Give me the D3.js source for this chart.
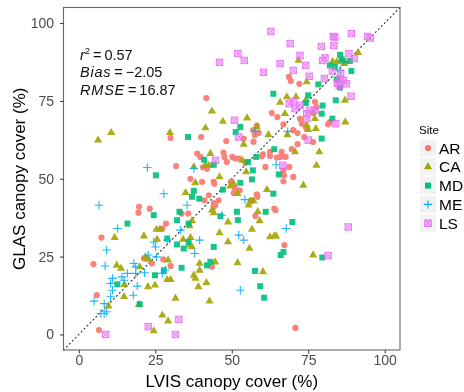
<!DOCTYPE html>
<html><head><meta charset="utf-8">
<script src="https://cdn.jsdelivr.net/npm/d3@7"></script>
<style>body{margin:0;background:#fff}svg{font-family:"Liberation Sans",Arial,Helvetica,sans-serif}</style>
</head><body>
<svg id="c" width="464" height="392"></svg>
<script>
const sites = ["AR","CA","MD","ME","LS"];
const colors = ["#F8766D","#A3A500","#00BF7D","#00B0F6","#E76BF3"];
const ticks = [0,25,50,75,100];
const stats = [["r","2","0.57"],["Bias","","\u22122.05"],["RMSE","","16.87"]];

const AR = [[41.7,75.9],[68.7,82.7],[69.3,81.4],[72.1,80.5],[77.2,74.7],[77.7,73],[76.6,71.1],[63.1,71.1],[64.9,69.8],[72.3,69.3],[72.9,67.7],[74.3,66.3],[66.9,67.5],[70.1,65.6],[71.5,64.7],[57,65.6],[58.2,67.1],[53.9,62.9],[57.6,64],[58.8,64.7],[30,63.1],[40,63.4],[48.2,62.1],[57.1,61.9],[71.5,61.1],[76.6,61.8],[82.1,68.2],[81.5,67.5],[73.7,63.4],[69.6,59.5],[67.6,57],[66.3,58.6],[38.7,58.1],[39.7,57],[40.6,53.7],[41.9,53.2],[31.8,54.1],[36.5,50],[40.3,49],[44.1,49],[44.3,48.4],[47.3,58.4],[47.6,57],[50.2,57],[51.1,56.5],[52.3,56.5],[49.8,49],[48.4,55.4],[54.4,55.1],[59.8,57.2],[60.2,57.8],[61,53.8],[62.5,57.3],[65.9,57],[64.7,56.8],[66.9,52.7],[67.1,51.1],[66.9,49.2],[70.1,50.6],[68.8,53.8],[62.5,58.6],[42.5,44.7],[45.7,43.1],[44.1,42.2],[44.1,41],[44.6,41.5],[51.1,46.8],[52.6,46.3],[58.2,45],[58.4,44.2],[56.3,43.1],[63.9,40.4],[64.3,39.9],[57.7,38],[41.1,43.1],[50.6,45.4],[33.6,38.8],[35.8,38.8],[19.7,41],[19.5,39.1],[23.2,40.4],[28.5,35.6],[27.3,34],[7.4,31.1],[21.3,24.4],[27.6,24.1],[23.9,22.8],[30,22],[43.5,21.7],[4.8,22.6],[5.9,12.6],[6.6,1.4],[70.8,2.1],[67.2,28.7]];
const CA = [[91.3,90.5],[71.8,88],[83,87.7],[84.3,87.5],[85.9,88],[86.8,87],[68,76.3],[71,76.3],[74.3,75.4],[74.5,81.1],[87,75.2],[65.8,74.5],[67.4,70.9],[77.2,69.3],[43.5,71.7],[55,69.5],[47.1,68.4],[58.2,66.6],[41.4,66.3],[74.5,67.2],[77.5,66.1],[87.1,68.2],[29.8,64.8],[10.6,64.8],[6.3,62.4],[62,64.1],[68.2,64.1],[75,65.8],[43,58.1],[53.9,61],[70.7,58.6],[78.6,58.6],[77.7,54.3],[41.4,54.3],[42.5,54.3],[37.6,53.8],[53.5,55.9],[54.7,52.2],[50.6,48.4],[46,50.6],[49.5,47.6],[38.1,48.7],[34.9,45.5],[73.4,47.9],[61.5,46.5],[51.9,45.2],[56,42.6],[57.1,42.9],[55.5,41.5],[58.5,39.4],[43.6,39.9],[44.1,39],[37,36.5],[36.2,34.9],[48.8,36.1],[59.1,36.5],[62.5,31.3],[63.9,31.6],[64.5,31.6],[56.6,33.7],[46,32.6],[25.4,33.7],[26.5,33.7],[25.6,30.5],[11.7,31.1],[21.3,31.6],[34.1,30.5],[36.5,31.1],[37,28.1],[36.2,28.7],[48.8,29.7],[55.8,27.6],[76.6,25.5],[21.8,24.9],[22.9,24.1],[29.2,23.9],[39.5,22.8],[44.6,23.2],[51.9,23],[12.4,22.2],[13.8,21.2],[19.9,21.7],[37.6,19],[38.1,18],[28.9,17.6],[30,17.6],[39.5,20.6],[41.7,16.6],[24.9,15.8],[22.6,15.3],[39.1,15.3],[14.9,16],[60.2,20.1],[14.8,12.1],[31.6,11.6],[42.7,10.7],[19.7,9.6],[9.7,9.1],[27.3,6.2],[29.2,4.3],[24.5,1.1]];
const MD = [[85.4,89.8],[85.9,88.4],[86.4,87.9],[82.1,86.4],[83.7,85.9],[89.1,84.6],[88.6,87.8],[84.3,81.9],[85.4,79.3],[78.3,80.3],[75,76.8],[84,75.2],[79.7,73.5],[79.4,70.9],[82.9,69.3],[79.4,62.9],[74.2,74.3],[63.6,77.3],[63.9,59.5],[51.3,65],[52.8,66.6],[35.7,63.4],[41,56.1],[44.1,54.5],[25.2,51.1],[37.6,46.1],[37,44.2],[39.4,43.6],[47.1,46.5],[52.8,48.7],[56.9,52.7],[55.3,55.4],[56.6,49.8],[58,57],[65.4,51.4],[63.6,45.2],[46.3,38],[52,36.7],[51.7,39.4],[61.1,39.4],[32.9,39.4],[24.5,38.3],[15.9,35.6],[32.1,36.7],[35.9,35.6],[28.9,30.8],[32.1,28.9],[34.3,27.6],[35.9,29.7],[44.1,28.1],[41.9,22.2],[43,23.3],[33.6,21.4],[27.8,20.6],[24.9,19],[12.6,16.1],[19.9,9.7],[57.6,20.4],[59.3,15.5],[60.6,11.8],[69.8,36.1],[66.9,26.5],[66,25.5],[79.6,24.7]];
const ME = [[22.4,53.6],[37.6,53.3],[27.8,45.2],[6.6,41.5],[35.4,41.5],[46.8,38.3],[12.7,34],[33.2,33.5],[9.1,27.1],[24.5,29.7],[25.1,28.1],[28.9,30.3],[39.5,30.3],[37.9,26],[52.3,31.9],[53.9,30.3],[67.8,34],[68.3,65.2],[57.7,65.3],[64.5,54.5],[8.6,22],[18,22.8],[18.6,21.7],[22.7,25.5],[25.4,24.9],[21.5,19.8],[15.9,19.6],[11,18],[10.4,16.4],[11,14.2],[10.4,12.1],[14.1,18.5],[14.8,17.4],[18.6,19.6],[19.1,15.5],[17.8,12.6],[5,10.7],[8.3,9.9],[7.2,6.7],[8.3,6.7],[9.1,7.3],[52.8,14.2],[27.3,19.6],[28.3,20.6],[54.3,43.3],[85.4,84.9]];
const LS = [[62.8,97.3],[89.1,96.6],[83.2,95.7],[83.7,95.5],[94.4,95.7],[95.3,95.2],[69.1,93.4],[83.4,92.8],[79.3,92.5],[52,90.2],[54.1,88],[46,87.4],[72.3,89.6],[74.2,86.4],[65.8,87],[70.1,84.8],[88.3,90.2],[90,88.6],[79.7,88],[80.5,88.8],[60.4,84.2],[82.9,84.6],[80.3,82.2],[75.3,82.9],[85.6,83.7],[85.4,82.1],[86.5,81.6],[87.5,80.5],[84.5,80.7],[85.1,80],[89,76.5],[68.8,74.1],[70.2,74.7],[70.7,72.5],[72.3,73.6],[75.4,72],[74.5,70.9],[77.2,72],[74.5,69.3],[84,67.7],[50.9,68.8],[52.3,63.4],[75,62.4],[44.7,55.9],[66.7,54.3],[88.1,34.5],[81.5,25.3],[22.7,2.5],[32.7,4.8],[8.8,0],[31.6,0]];
const data = {AR, CA, MD, ME, LS};

const svg = d3.select("#c");
const x = d3.scaleLinear().domain([-5,105]).range([63.5,400]);
const y = d3.scaleLinear().domain([-5,105]).range([350,7.5]);

svg.append("rect").attr("x",63.5).attr("y",7.5).attr("width",336.5).attr("height",342.5)
  .attr("fill","#fff");

svg.append("line").attr("x1",x(-5)).attr("y1",y(-5)).attr("x2",x(105)).attr("y2",y(105))
  .attr("stroke","#222").attr("stroke-width",1.1).attr("stroke-dasharray","1,3.2").attr("stroke-linecap","round");

function drawShape(g, site, color){
  if(site==="AR"){
    g.append("circle").attr("r",3.1).attr("fill",color);
  } else if(site==="CA"){
    g.append("path").attr("d",d3.symbol(d3.symbolTriangle, 29)()).attr("fill",color);
  } else if(site==="MD"){
    g.append("rect").attr("x",-3).attr("y",-3).attr("width",6).attr("height",6).attr("fill",color);
  } else if(site==="ME"){
    g.append("path").attr("d","M-4.2,0H4.2M0,-4.2V4.2").attr("stroke",color).attr("stroke-width",1.1).attr("fill","none");
  } else {
    g.append("rect").attr("x",-3.2).attr("y",-3.2).attr("width",6.4).attr("height",6.4)
      .attr("fill",color).attr("fill-opacity",0.45).attr("stroke",color).attr("stroke-width",1);
    g.append("path").attr("d","M-3.2,-3.2L3.2,3.2M3.2,-3.2L-3.2,3.2").attr("stroke",color).attr("stroke-width",0.9);
  }
}
sites.forEach((s,i)=>{
  svg.append("g").attr("opacity",0.9).selectAll("g").data(data[s]).join("g")
    .attr("transform",d=>`translate(${x(d[0])},${y(d[1])})`)
    .each(function(){ drawShape(d3.select(this), s, colors[i]); });
});

svg.append("rect").attr("x",63.5).attr("y",7.5).attr("width",336.5).attr("height",342.5)
  .attr("fill","none").attr("stroke","#666").attr("stroke-width",1.1);

const xAxis = svg.append("g").attr("transform","translate(0,350)")
  .call(d3.axisBottom(x).tickValues(ticks).tickSize(3.5).tickPadding(2));
const yAxis = svg.append("g").attr("transform","translate(63.5,0)")
  .call(d3.axisLeft(y).tickValues(ticks).tickSize(3.5).tickPadding(6));
[xAxis,yAxis].forEach(a=>{
  a.select(".domain").remove();
  a.selectAll(".tick line").attr("stroke","#333");
  a.selectAll(".tick text").attr("fill","#4D4D4D").attr("font-size",14).attr("font-family","Liberation Sans, Arial, sans-serif");
});

svg.append("text").attr("x",x(50)).attr("y",387).attr("text-anchor","middle")
  .attr("font-size",17).attr("fill","#000").text("LVIS canopy cover (%)");
svg.append("text").attr("transform",`translate(25,${y(50)}) rotate(-90)`).attr("text-anchor","middle")
  .attr("font-size",17).attr("fill","#000").text("GLAS canopy cover (%)");

const ann = svg.append("g").attr("font-size",14.5).attr("fill","#111");
stats.forEach((s,i)=>{
  const t = ann.append("text").attr("x",80).attr("y",60+i*17.3);
  t.append("tspan").attr("font-style","italic").attr("letter-spacing",s[0].length>1?0.8:0).text(s[0]);
  if(s[1]) t.append("tspan").attr("font-size",9.5).attr("dy",-6).text(s[1]);
  t.append("tspan").attr("dy",s[1]?6:0).text("\u2009=\u2009"+s[2]);
});

svg.append("text").attr("x",419).attr("y",134).attr("font-size",11.5).attr("fill","#000").text("Site");
sites.forEach((s,i)=>{
  const cy = 148 + i*18.8;
  const g = svg.append("g").attr("transform",`translate(428,${cy})`);
  g.append("rect").attr("x",-8.5).attr("y",-9).attr("width",17).attr("height",18).attr("fill","#F2F2F2").attr("stroke","#fff");
  const k = g.append("g"); drawShape(k, s, colors[i]);
  svg.append("text").attr("x",439).attr("y",cy+5.5).attr("font-size",15.5).attr("fill","#000").text(s);
});
</script>
</body></html>
